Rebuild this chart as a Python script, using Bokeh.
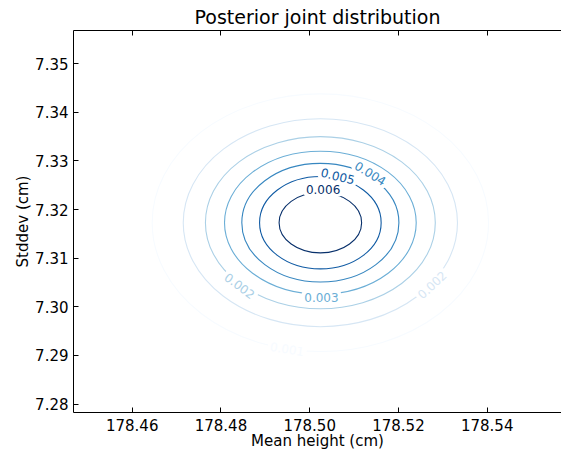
from bokeh.plotting import figure
from bokeh.models import (Range1d, FixedTicker, NumeralTickFormatter, LinearAxis,
                          ColumnDataSource, LabelSet)
from bokeh.core.properties import value
from bokeh.embed import file_html
from bokeh.resources import INLINE

# ---- data ----
x_ticks = [178.46, 178.48, 178.50, 178.52, 178.54]
y_ticks = [7.28, 7.29, 7.30, 7.31, 7.32, 7.33, 7.34, 7.35]

# contour levels of the posterior pmf, outer -> inner
levels = [0.0008, 0.0016, 0.0024, 0.0032, 0.0040, 0.0048, 0.0056]
center_mu = 178.5024
center_sigma = 7.3173
half_width_mu = [0.0379, 0.0309, 0.0259, 0.0216, 0.0177, 0.0137, 0.0093]
half_height_sigma = [0.0265, 0.0214, 0.0177, 0.0147, 0.0122, 0.0095, 0.0062]
level_colors = ["#f7fbff", "#d6e6f4", "#abd0e6", "#6baed6", "#3787c0", "#105ba4", "#08306b"]

# inline contour labels
label_text = ["0.001", "0.002", "0.002", "0.003", "0.004", "0.005", "0.006"]
label_level = [0, 1, 2, 3, 4, 5, 6]
label_x = [178.49491, 178.52758, 178.48423, 178.50264, 178.51368, 178.50631, 178.50302]
label_y = [7.29132, 7.30451, 7.30430, 7.30199, 7.32743, 7.32687, 7.32414]
label_angle = [-9, 43, -37, 0, -32, -14, 0]

FONT = "DejaVu Sans"

p = figure(width=561, height=452, output_backend="svg", toolbar_location=None,
           x_range=Range1d(178.44677, 178.55674), y_range=Range1d(7.27826, 7.35683),
           min_border_left=73, min_border_right=0, min_border_top=30, min_border_bottom=39,
           x_axis_location=None, y_axis_location=None)
p.grid.visible = False
p.outline_line_color = None
p.background_fill_color = "white"
p.border_fill_color = "white"

p.title.text = "Posterior joint distribution"
p.title.align = "center"
p.title.text_font = FONT
p.title.text_font_size = "19px"
p.title.text_font_style = "normal"
p.title.text_color = "black"
p.title.offset = 5
p.title.standoff = 5


def style_axis(ax):
    ax.axis_line_color = "black"
    ax.axis_line_width = 1
    ax.major_tick_in = 5
    ax.major_tick_out = 0
    ax.major_tick_line_color = "black"
    ax.major_tick_line_width = 1
    ax.minor_tick_line_color = None
    ax.major_label_text_font = FONT
    ax.major_label_text_font_size = "15px"
    ax.major_label_text_color = "black"
    ax.axis_label_text_font = FONT
    ax.axis_label_text_font_size = "15px"
    ax.axis_label_text_font_style = "normal"
    ax.axis_label_text_color = "black"
    ax.formatter = NumeralTickFormatter(format="0.00")


xaxis = LinearAxis(ticker=FixedTicker(ticks=x_ticks), axis_label="Mean height (cm)")
style_axis(xaxis)
xaxis.major_label_standoff = 6
xaxis.axis_label_standoff = -2
p.add_layout(xaxis, "below")

yaxis = LinearAxis(ticker=FixedTicker(ticks=y_ticks), axis_label="Stddev (cm)")
style_axis(yaxis)
yaxis.major_label_standoff = 5
yaxis.axis_label_standoff = 0
p.add_layout(yaxis, "left")

# top spine with inward ticks, no labels
top_axis = LinearAxis(ticker=FixedTicker(ticks=x_ticks))
style_axis(top_axis)
top_axis.major_label_text_font_size = "0px"
top_axis.major_label_text_color = None
top_axis.major_label_standoff = 0
p.add_layout(top_axis, "above")

# contour lines
csrc = ColumnDataSource(dict(
    x=[center_mu] * len(levels),
    y=[center_sigma] * len(levels),
    w=[2 * v for v in half_width_mu],
    h=[2 * v for v in half_height_sigma],
    c=level_colors,
))
p.ellipse(x="x", y="y", width="w", height="h", source=csrc,
          fill_color=None, line_color="c", line_width=1.1)

# contour labels (white box cuts the line like matplotlib's inline labels)
lsrc = ColumnDataSource(dict(
    x=label_x, y=label_y, t=label_text, a=label_angle,
    c=[level_colors[i] for i in label_level],
))
labels = LabelSet(x="x", y="y", text="t", angle="a", angle_units="deg", source=lsrc,
                  text_align="center", text_baseline="middle", text_color="c",
                  text_font=value(FONT), text_font_size=value("12px"),
                  background_fill_color="white",
                  border_line_color="white", border_line_width=5)
p.add_layout(labels)

open("out.html", "w").write(file_html(p, INLINE))
